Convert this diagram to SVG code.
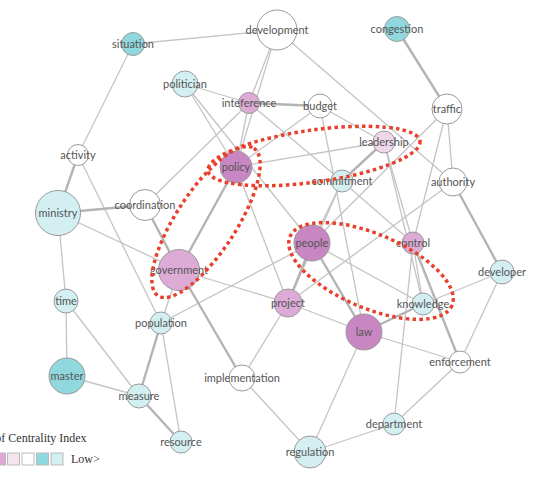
<svg xmlns="http://www.w3.org/2000/svg" width="534" height="478" viewBox="0 0 534 478">
<style>
.e{stroke:#c4c4c4;stroke-width:1.3;fill:none}
.t{stroke:#b4b4b4;stroke-width:2.4;fill:none}
circle{stroke:#9a9a9a;stroke-width:1}
.w{fill:#ffffff}.c{fill:#90d8dd}.lc{fill:#d3eff2}.p{fill:#c887c2}.m{fill:#dcabd6}.lp{fill:#efd6e9}
text{font-family:Lato,"DejaVu Sans",sans-serif;font-size:11px;fill:#555;text-anchor:middle}
.ell{fill:none;stroke:#e8402d;stroke-width:3.5;stroke-dasharray:3.5 3.3}
.lg{font-family:"Liberation Serif",serif;font-size:12px;fill:#333;text-anchor:start}
.sw{stroke:#bbb;stroke-width:1}
</style>
<rect width="534" height="478" fill="#fff"/>
<g id="connectors">
<line class="e" x1="133" y1="44" x2="277" y2="30"/>
<line class="e" x1="133" y1="44" x2="78" y2="155"/>
<line class="e" x1="277" y1="30" x2="249" y2="103"/>
<line class="e" x1="277" y1="30" x2="236" y2="167"/>
<line class="e" x1="277" y1="30" x2="453" y2="182"/>
<line class="t" x1="397" y1="29" x2="447" y2="109"/>
<line class="e" x1="185" y1="84" x2="249" y2="103"/>
<line class="e" x1="185" y1="84" x2="236" y2="167"/>
<line class="e" x1="185" y1="84" x2="312" y2="243"/>
<line class="t" x1="249" y1="103" x2="320" y2="106"/>
<line class="e" x1="249" y1="103" x2="236" y2="167"/>
<line class="e" x1="249" y1="103" x2="145" y2="205"/>
<line class="e" x1="249" y1="103" x2="342" y2="181"/>
<line class="e" x1="320" y1="106" x2="236" y2="167"/>
<line class="e" x1="320" y1="106" x2="384" y2="142"/>
<line class="e" x1="320" y1="106" x2="364" y2="332"/>
<line class="e" x1="447" y1="109" x2="413" y2="243"/>
<line class="e" x1="447" y1="109" x2="453" y2="182"/>
<line class="e" x1="447" y1="109" x2="312" y2="243"/>
<line class="e" x1="384" y1="142" x2="236" y2="167"/>
<line class="t" x1="384" y1="142" x2="342" y2="181"/>
<line class="e" x1="384" y1="142" x2="413" y2="243"/>
<line class="e" x1="384" y1="142" x2="423" y2="304"/>
<line class="t" x1="78" y1="155" x2="58" y2="213"/>
<line class="e" x1="78" y1="155" x2="161" y2="323"/>
<line class="t" x1="58" y1="213" x2="145" y2="205"/>
<line class="e" x1="58" y1="213" x2="179" y2="270"/>
<line class="e" x1="58" y1="213" x2="66" y2="301"/>
<line class="t" x1="145" y1="205" x2="179" y2="270"/>
<line class="t" x1="236" y1="167" x2="179" y2="270"/>
<line class="e" x1="236" y1="167" x2="288" y2="303"/>
<line class="e" x1="342" y1="181" x2="312" y2="243"/>
<line class="e" x1="342" y1="181" x2="413" y2="243"/>
<line class="e" x1="342" y1="181" x2="288" y2="303"/>
<line class="t" x1="453" y1="182" x2="502" y2="272"/>
<line class="e" x1="453" y1="182" x2="288" y2="303"/>
<line class="t" x1="312" y1="243" x2="288" y2="303"/>
<line class="t" x1="312" y1="243" x2="364" y2="332"/>
<line class="e" x1="312" y1="243" x2="423" y2="304"/>
<line class="e" x1="161" y1="323" x2="312" y2="243"/>
<line class="e" x1="179" y1="270" x2="161" y2="323"/>
<line class="t" x1="179" y1="270" x2="242" y2="378"/>
<line class="e" x1="179" y1="270" x2="288" y2="303"/>
<line class="e" x1="288" y1="303" x2="364" y2="332"/>
<line class="e" x1="288" y1="303" x2="242" y2="378"/>
<line class="e" x1="413" y1="243" x2="423" y2="304"/>
<line class="t" x1="413" y1="243" x2="460" y2="362"/>
<line class="e" x1="413" y1="243" x2="394" y2="424"/>
<line class="t" x1="423" y1="304" x2="364" y2="332"/>
<line class="e" x1="502" y1="272" x2="423" y2="304"/>
<line class="e" x1="502" y1="272" x2="460" y2="362"/>
<line class="e" x1="364" y1="332" x2="460" y2="362"/>
<line class="e" x1="364" y1="332" x2="310" y2="452"/>
<line class="e" x1="66" y1="301" x2="67" y2="376"/>
<line class="e" x1="66" y1="301" x2="139" y2="396"/>
<line class="e" x1="67" y1="376" x2="139" y2="396"/>
<line class="t" x1="161" y1="323" x2="139" y2="396"/>
<line class="e" x1="161" y1="323" x2="181" y2="442"/>
<line class="t" x1="139" y1="396" x2="181" y2="442"/>
<line class="e" x1="242" y1="378" x2="310" y2="452"/>
<line class="e" x1="310" y1="452" x2="394" y2="424"/>
<line class="e" x1="394" y1="424" x2="460" y2="362"/>
</g>
<g id="n-development"><circle class="w" cx="277" cy="30" r="20"/><text x="277" y="34">development</text></g>
<g id="n-congestion"><circle class="c" cx="397" cy="29" r="12.5"/><text x="397" y="33">congestion</text></g>
<g id="n-situation"><circle class="c" cx="133" cy="44" r="11.5"/><text x="133" y="48">situation</text></g>
<g id="n-politician"><circle class="lc" cx="185" cy="84" r="13"/><text x="185" y="88">politician</text></g>
<g id="n-inteference"><circle class="m" cx="249" cy="103" r="10.5"/><text x="249" y="107">inteference</text></g>
<g id="n-budget"><circle class="w" cx="320" cy="106" r="12"/><text x="320" y="110">budget</text></g>
<g id="n-traffic"><circle class="w" cx="447" cy="109" r="15"/><text x="447" y="113">traffic</text></g>
<g id="n-leadership"><circle class="lp" cx="384" cy="142" r="11"/><text x="384" y="146">leadership</text></g>
<g id="n-activity"><circle class="w" cx="78" cy="155" r="10.5"/><text x="78" y="159">activity</text></g>
<g id="n-policy"><circle class="p" cx="236" cy="167" r="16"/><text x="236" y="171">policy</text></g>
<g id="n-commitment"><circle class="lc" cx="342" cy="181" r="11"/><text x="342" y="185">commitment</text></g>
<g id="n-authority"><circle class="w" cx="453" cy="182" r="14"/><text x="453" y="186">authority</text></g>
<g id="n-ministry"><circle class="lc" cx="58" cy="213" r="22.5"/><text x="58" y="217">ministry</text></g>
<g id="n-coordination"><circle class="w" cx="145" cy="205" r="15.5"/><text x="145" y="209">coordination</text></g>
<g id="n-people"><circle class="p" cx="312" cy="243" r="18"/><text x="312" y="247">people</text></g>
<g id="n-control"><circle class="m" cx="413" cy="243" r="11"/><text x="413" y="247">control</text></g>
<g id="n-government"><circle class="m" cx="179" cy="270" r="20.5"/><text x="179" y="274">government</text></g>
<g id="n-developer"><circle class="lc" cx="502" cy="272" r="12"/><text x="502" y="276">developer</text></g>
<g id="n-time"><circle class="lc" cx="66" cy="301" r="12"/><text x="66" y="305">time</text></g>
<g id="n-project"><circle class="m" cx="288" cy="303" r="14"/><text x="288" y="307">project</text></g>
<g id="n-knowledge"><circle class="lc" cx="423" cy="304" r="11"/><text x="423" y="308">knowledge</text></g>
<g id="n-population"><circle class="lc" cx="161" cy="323" r="11"/><text x="161" y="327">population</text></g>
<g id="n-law"><circle class="p" cx="364" cy="332" r="18"/><text x="364" y="336">law</text></g>
<g id="n-master"><circle class="c" cx="67" cy="376" r="18"/><text x="67" y="380">master</text></g>
<g id="n-enforcement"><circle class="w" cx="460" cy="362" r="11"/><text x="460" y="366">enforcement</text></g>
<g id="n-implementation"><circle class="w" cx="242" cy="378" r="13"/><text x="242" y="382">implementation</text></g>
<g id="n-measure"><circle class="lc" cx="139" cy="396" r="12"/><text x="139" y="400">measure</text></g>
<g id="n-department"><circle class="lc" cx="394" cy="424" r="11"/><text x="394" y="428">department</text></g>
<g id="n-resource"><circle class="lc" cx="181" cy="442" r="11"/><text x="181" y="446">resource</text></g>
<g id="n-regulation"><circle class="lc" cx="310" cy="452" r="16"/><text x="310" y="456">regulation</text></g>
<g id="highlights">
<ellipse class="ell" cx="314" cy="156" rx="107" ry="26" transform="rotate(-8 314 156)"/>
<ellipse class="ell" cx="206" cy="222" rx="88" ry="30" transform="rotate(-57 206 222)"/>
<ellipse class="ell" cx="371" cy="271" rx="88" ry="37" transform="rotate(23 371 271)"/>
</g>
<g id="legend">
<text class="lg" x="-4.7" y="442">of Centrality Index</text>
<rect class="sw" x="-6.5" y="453" width="12" height="12" fill="#e2a6d6"/>
<rect class="sw" x="7.5" y="453" width="12" height="12" fill="#f6e3f0"/>
<rect class="sw" x="22" y="453" width="12" height="12" fill="#ffffff"/>
<rect class="sw" x="36.5" y="453" width="12" height="12" fill="#8ed8df"/>
<rect class="sw" x="51" y="453" width="12" height="12" fill="#d4eef2"/>
<text class="lg" x="71" y="463">Low&gt;</text>
</g>
</svg>
